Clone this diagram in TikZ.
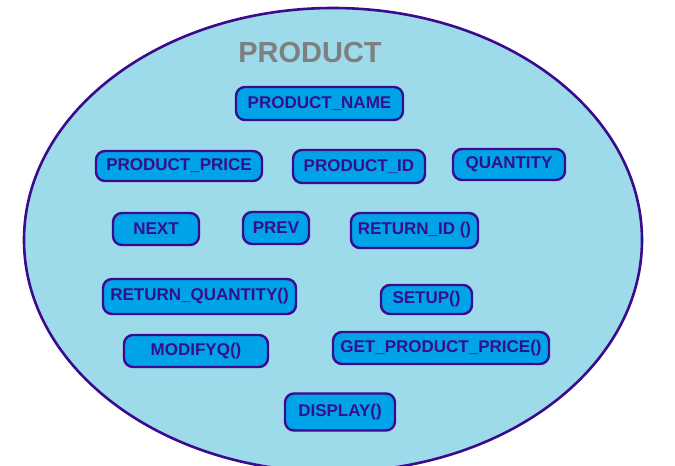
\documentclass[tikz,border=0pt]{standalone}
\usepackage{fontspec}
\setmainfont{Liberation Sans}
\definecolor{ellfill}{HTML}{9DDAEA}
\definecolor{boxfill}{HTML}{00A2E8}
\definecolor{bord}{HTML}{3C0A8C}
\definecolor{txt}{HTML}{35108A}
\definecolor{titlegray}{HTML}{7F7F7F}
\begin{document}
\begin{tikzpicture}[x=1pt,y=-1pt,
  member/.style={draw=bord, line width=2.4pt, fill=boxfill, rounded corners=9pt,
    text=txt, font=\bfseries\fontsize{17}{18}\selectfont, inner sep=0pt, shape=rectangle},
  outline/.style={draw=bord, line width=2.6pt, fill=ellfill}]
\useasboundingbox (0,0) rectangle (675,466);
\begin{scope}
\clip (0,0) rectangle (675,466);
\draw[outline] (333,240) ellipse [x radius=309pt, y radius=232pt];
\end{scope}
\node[text=titlegray, font=\bfseries\fontsize{29}{30}\selectfont] (title) at (310,53) {PRODUCT};
\node[member, minimum width=167pt, minimum height=33pt] (pname) at (319.5,103.5) {PRODUCT\_NAME};
\node[member, minimum width=166pt, minimum height=30pt] (pprice) at (179,166) {PRODUCT\_PRICE};
\node[member, minimum width=132pt, minimum height=33pt] (pid) at (359,166.5) {PRODUCT\_ID};
\node[member, minimum width=112pt, minimum height=31pt] (qty) at (509,164.5) {QUANTITY};
\node[member, minimum width=86pt, minimum height=32pt] (next) at (156,229) {NEXT};
\node[member, minimum width=66pt, minimum height=32pt] (prev) at (276,228) {PREV};
\node[member, minimum width=127pt, minimum height=35pt] (retid) at (414.5,230.5) {RETURN\_ID ()};
\node[member, minimum width=193pt, minimum height=35pt] (retq) at (199.5,296.5) {RETURN\_QUANTITY()};
\node[member, minimum width=91pt, minimum height=29pt] (setup) at (426.5,299.5) {SETUP()};
\node[member, minimum width=144pt, minimum height=32pt] (modq) at (196,351) {MODIFYQ()};
\node[member, minimum width=216pt, minimum height=32pt] (getp) at (441,348) {GET\_PRODUCT\_PRICE()};
\node[member, minimum width=110pt, minimum height=37pt] (disp) at (340,412) {DISPLAY()};
\end{tikzpicture}
\end{document}
